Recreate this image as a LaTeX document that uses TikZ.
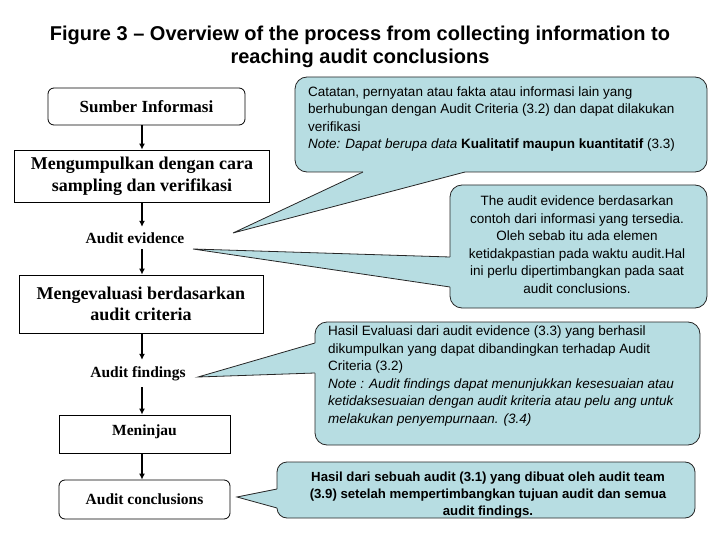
\documentclass[tikz,border=0pt]{standalone}
\usepackage{fontspec}
\setmainfont{Liberation Serif}
\setsansfont{Liberation Sans}
\usepackage{tikz}
\usetikzlibrary{arrows.meta,calc}
\definecolor{calloutblue}{RGB}{183,221,226}

\begin{document}
\begin{tikzpicture}[x=1pt, y=-1pt,
    flowbox/.style={rectangle, draw=black, line width=0.8pt, align=center,
                    inner sep=0pt, font=\bfseries\fontsize{18}{21.5}\selectfont},
    roundbox/.style={flowbox, rounded corners=6pt},
    flowlabel/.style={inner sep=0pt, align=center},
    small/.style={font=\bfseries\fontsize{15.5}{18}\selectfont},
    bubble/.style={rectangle, draw=black!85, line width=0.8pt, fill=calloutblue,
                   rounded corners=12pt, inner sep=0pt, outer sep=0pt},
    tail/.style={draw=black!85, line width=0.8pt},
    note/.style={inner sep=0pt, font=\sffamily\fontsize{13.5}{17.5}\selectfont},
    arrow/.style={-{Latex[length=6pt,width=6pt]}, line width=1.6pt}]

\useasboundingbox (0,0) rectangle (720,540);

% Title
\node[font=\sffamily\bfseries\fontsize{20}{23}\selectfont, align=center] (title) at (360,46.5)
    {Figure 3 – Overview of the process from collecting information to\\reaching audit conclusions};

% Flow
\node[roundbox, minimum width=197pt, minimum height=37pt, font=\bfseries\fontsize{17}{20}\selectfont] (sumber) at (146.5,106.5) {Sumber Informasi};
\node[flowbox, minimum width=255pt, minimum height=52pt] (kumpul) at (142,176) {Mengumpulkan dengan cara\\sampling dan verifikasi};
\node[flowlabel, small, minimum height=22pt] (evidence) at (135,238) {Audit evidence};
\node[flowbox, minimum width=244pt, minimum height=58pt] (evaluasi) at (141,304) {Mengevaluasi berdasarkan\\audit criteria};
\node[flowlabel, small, minimum height=27pt] (findings) at (138,373.5) {Audit findings};
\node[flowbox, small, minimum width=171pt, minimum height=38pt, text depth=7pt] (tinjau) at (144.5,434) {Meninjau};
\node[roundbox, small, minimum width=171pt, minimum height=39pt] (kesimpulan) at (144.5,499.5) {Audit conclusions};

% Arrows
\draw[arrow] (sumber.south -| kumpul) -- (kumpul.north);
\draw[arrow] (kumpul.south) -- (evidence.north -| kumpul);
\draw[arrow] (evidence.south -| kumpul) -- (evaluasi.north -| kumpul);
\draw[arrow] (evaluasi.south -| kumpul) -- (findings.north -| kumpul);
\draw[arrow] (findings.south -| kumpul) -- (tinjau.north -| kumpul);
\draw[arrow] (tinjau.south -| kumpul) -- (kesimpulan.north -| kumpul);

% Callout boxes
\node[bubble, minimum width=412pt, minimum height=95pt] (c1) at (501,124.5) {};
\node[bubble, minimum width=257pt, minimum height=123pt] (c2) at (578.5,246.5) {};
\node[bubble, minimum width=385pt, minimum height=123pt] (c3) at (507.5,383.5) {};
\node[bubble, minimum width=418pt, minimum height=56pt, rounded corners=10pt] (c4) at (486,490) {};

% Tips
\coordinate (tip1) at (233,233);
\coordinate (tip2) at (193,249);
\coordinate (tip3) at (198,377);
\coordinate (tip4) at (237,497);

% Tails
\fill[calloutblue] (tip1) -- ($(c1.south west)+(68,0)$) -- ($(c1.south west)+(68,-1.5)$)
    -- ($(c1.south west)+(170,-1.5)$) -- ($(c1.south west)+(170,0)$) -- cycle;
\draw[tail] ($(c1.south west)+(68,0)$) -- (tip1) -- ($(c1.south west)+(170,0)$);

\fill[calloutblue] (tip2) -- ($(c2.north west)+(0,72)$) -- ($(c2.north west)+(1.5,72)$)
    -- ($(c2.north west)+(1.5,102)$) -- ($(c2.north west)+(0,102)$) -- cycle;
\draw[tail] ($(c2.north west)+(0,72)$) -- (tip2) -- ($(c2.north west)+(0,102)$);

\fill[calloutblue] (tip3) -- ($(c3.north west)+(0,21)$) -- ($(c3.north west)+(1.5,21)$)
    -- ($(c3.north west)+(1.5,51)$) -- ($(c3.north west)+(0,51)$) -- cycle;
\draw[tail] ($(c3.north west)+(0,21)$) -- (tip3) -- ($(c3.north west)+(0,51)$);

\fill[calloutblue] (tip4) -- ($(c4.north west)+(0,27)$) -- ($(c4.north west)+(1.5,27)$)
    -- ($(c4.north west)+(1.5,46)$) -- ($(c4.north west)+(0,46)$) -- cycle;
\draw[tail] ($(c4.north west)+(0,27)$) -- (tip4) -- ($(c4.north west)+(0,46)$);

% Callout texts
\node[note, anchor=west, align=left] (n1) at (308,119)
    {Catatan, pernyatan atau fakta atau informasi lain yang\\berhubungan dengan Audit Criteria (3.2) dan dapat dilakukan\\verifikasi\\\textit{Note: Dapat berupa data} \textbf{Kualitatif maupun kuantitatif} (3.3)};
\node[note, align=center] (n2) at (577,244.5)
    {The audit evidence berdasarkan\\contoh dari informasi yang tersedia.\\Oleh sebab itu ada elemen\\ketidakpastian pada waktu audit.Hal\\ini perlu dipertimbangkan pada saat\\audit conclusions.};
\node[note, anchor=west, align=left] (n3) at (328,376)
    {Hasil Evaluasi dari audit evidence (3.3) yang berhasil\\dikumpulkan yang dapat dibandingkan terhadap Audit\\Criteria (3.2)\\\textit{Note : Audit findings dapat menunjukkan kesesuaian atau}\\\textit{ketidaksesuaian dengan audit kriteria atau pelu ang untuk}\\\textit{melakukan penyempurnaan. (3.4)}};
\node[note, align=center, font=\sffamily\bfseries\fontsize{13.2}{17}\selectfont] (n4) at (488,495.5)
    {Hasil dari sebuah audit (3.1) yang dibuat oleh audit team\\(3.9) setelah mempertimbangkan tujuan audit dan semua\\audit findings.};
\end{tikzpicture}
\end{document}
